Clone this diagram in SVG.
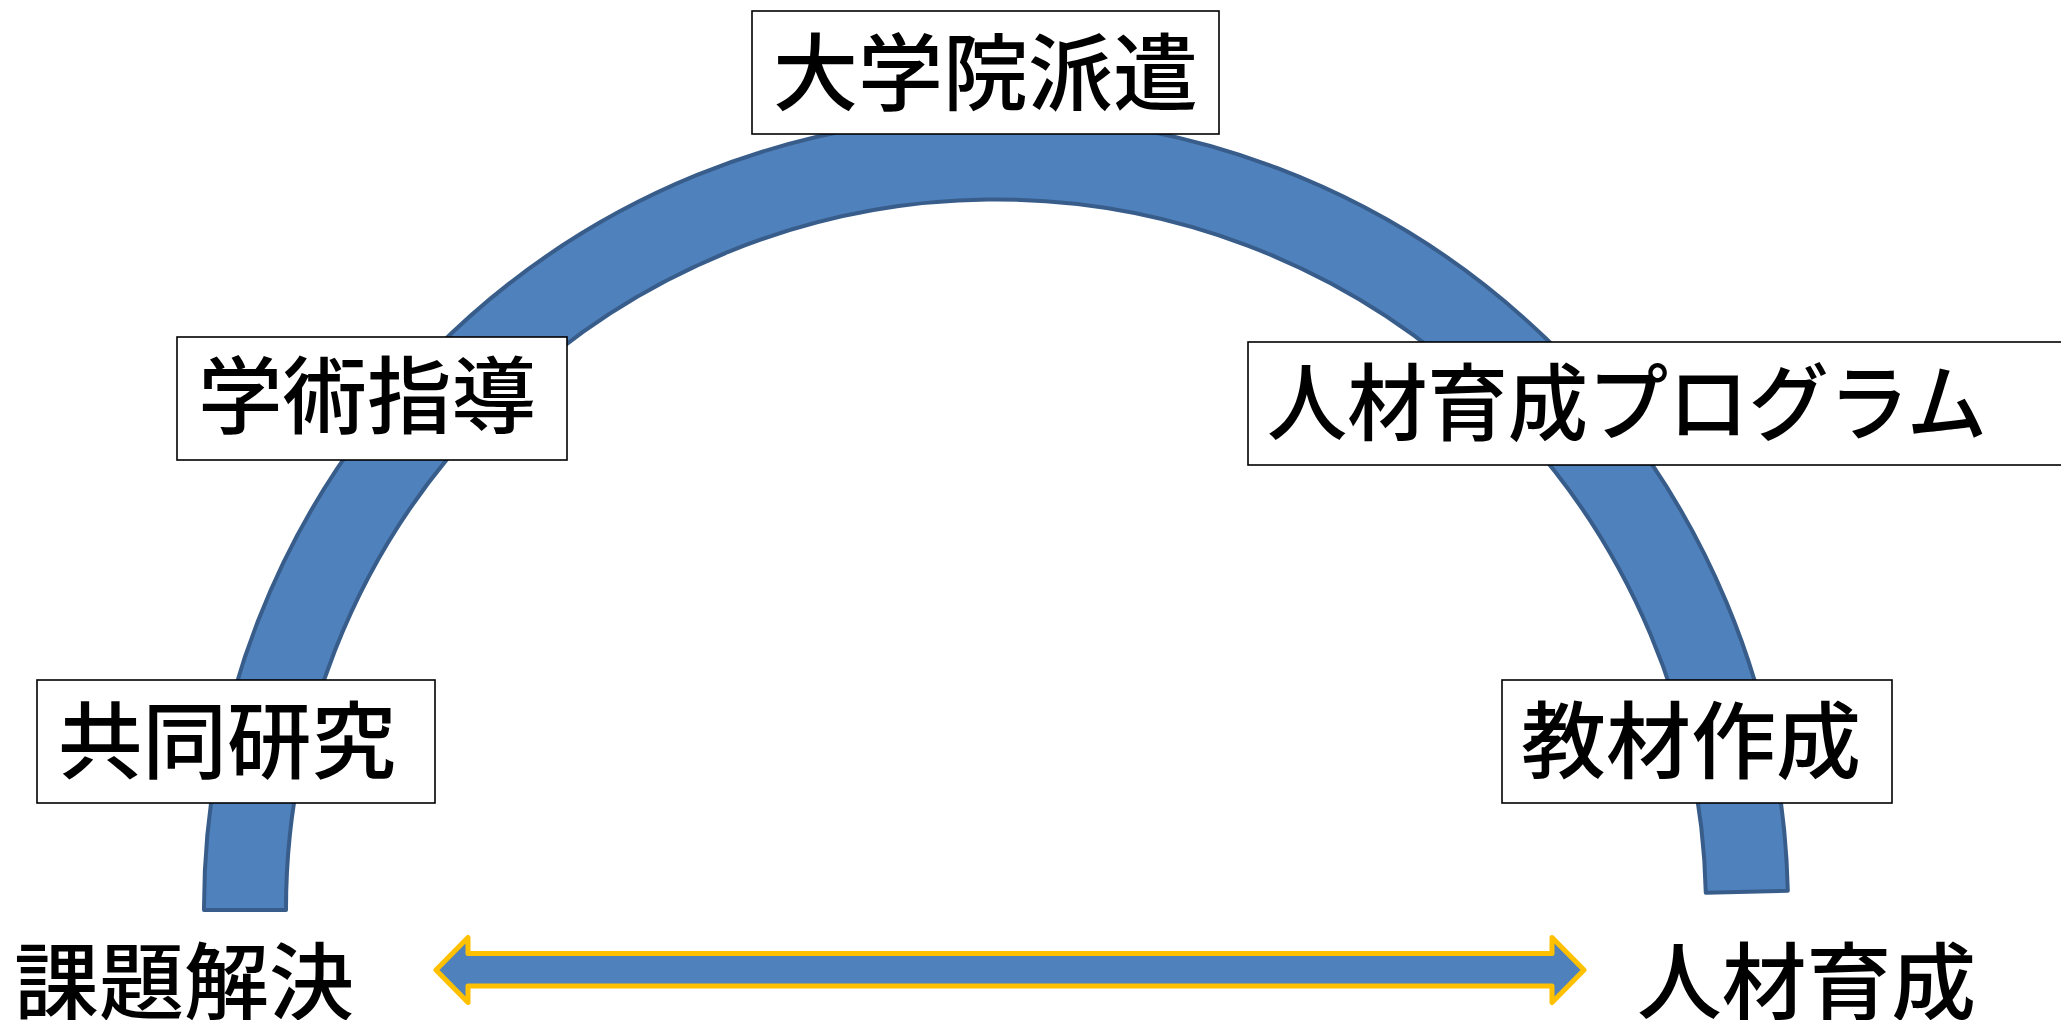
<svg xmlns="http://www.w3.org/2000/svg" width="2061" height="1020" viewBox="0 0 2061 1020">
<style>
.box{fill:#ffffff;stroke:#000000;stroke-width:1.6}
.lbl{font-family:"Noto Sans CJK JP","Noto Sans CJK SC",sans-serif;font-size:84px;font-weight:500;fill:#000000}
.arc{fill:#4F81BD;stroke:#385D8A;stroke-width:4;stroke-linejoin:round}
.dbl{fill:#4F81BD;stroke:#FFC000;stroke-width:5;stroke-linejoin:round}
</style>
<rect x="0" y="0" width="2061" height="1020" fill="#ffffff"/>
<g id="connectors">
<path class="arc" d="M204,910 A792,792 0 0 1 1787.8,890.7 L1705.8,892.7 A710,710 0 0 0 286,910 Z"/>
<path class="dbl" d="M436,970 L468,937.5 L468,953.5 L1552,953.5 L1552,937.5 L1584,970 L1552,1002.5 L1552,986 L468,986 L468,1002.5 Z"/>
</g>
<g id="node-daigakuin">
<rect class="box" x="752" y="11" width="467" height="123"/>
<text class="lbl" x="773" y="104" textLength="425" lengthAdjust="spacingAndGlyphs">大学院派遣</text>
</g>
<g id="node-gakujutsu">
<rect class="box" x="177" y="337" width="390" height="123"/>
<text class="lbl" x="198" y="427" textLength="338" lengthAdjust="spacingAndGlyphs">学術指導</text>
</g>
<g id="node-program">
<rect class="box" x="1248" y="342" width="830" height="123"/>
<text class="lbl" x="1267" y="434" textLength="720" lengthAdjust="spacingAndGlyphs">人材育成プログラム</text>
</g>
<g id="node-kyodo">
<rect class="box" x="37" y="680" width="398" height="123"/>
<text class="lbl" x="58" y="772" textLength="338" lengthAdjust="spacingAndGlyphs">共同研究</text>
</g>
<g id="node-kyozai">
<rect class="box" x="1502" y="680" width="390" height="123"/>
<text class="lbl" x="1521" y="772" textLength="340" lengthAdjust="spacingAndGlyphs">教材作成</text>
</g>
<g id="node-kadai">
<text class="lbl" x="14" y="1013" textLength="340" lengthAdjust="spacingAndGlyphs">課題解決</text>
</g>
<g id="node-jinzai">
<text class="lbl" x="1637" y="1013" textLength="339" lengthAdjust="spacingAndGlyphs">人材育成</text>
</g>
</svg>
